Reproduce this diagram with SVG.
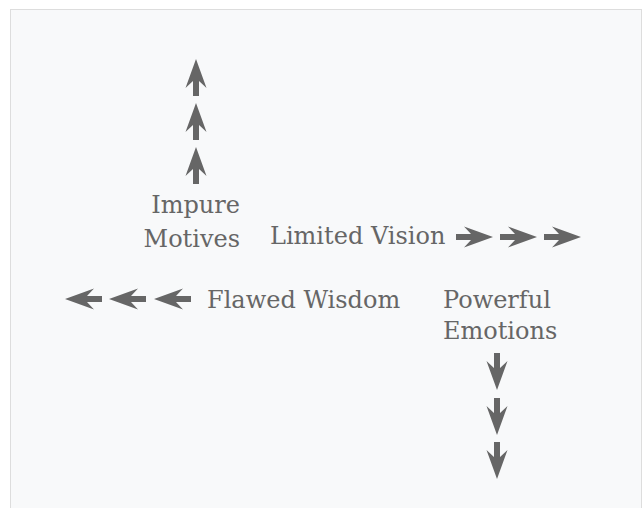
<svg xmlns="http://www.w3.org/2000/svg" width="644" height="508" viewBox="0 0 644 508">
<defs>
<style>
.lbl{font-family:"DejaVu Serif","Liberation Serif",serif;font-size:24px;fill:#666;}
.arr{fill:#666;}
</style>
<path id="arrow" d="M0,-3 L15,-3 L8,-10.5 L37,0 L8,10.5 L15,3 L0,3 Z"/>
</defs>
<rect x="10.5" y="9.5" width="631" height="510" fill="#f8f9fa" stroke="#dddddd" stroke-width="1"/>
<g id="connectors" class="arr">
<use href="#arrow" transform="translate(196,184) rotate(-90)"/>
<use href="#arrow" transform="translate(196,140) rotate(-90)"/>
<use href="#arrow" transform="translate(196,96) rotate(-90)"/>
<use href="#arrow" transform="translate(456,237)"/>
<use href="#arrow" transform="translate(500,237)"/>
<use href="#arrow" transform="translate(544,237)"/>
<use href="#arrow" transform="translate(191,299) rotate(180)"/>
<use href="#arrow" transform="translate(146,299) rotate(180)"/>
<use href="#arrow" transform="translate(102,299) rotate(180)"/>
<use href="#arrow" transform="translate(497,353) rotate(90)"/>
<use href="#arrow" transform="translate(497,398) rotate(90)"/>
<use href="#arrow" transform="translate(497,442) rotate(90)"/>
</g>
<g id="impure-motives">
<text class="lbl" x="240" y="213" text-anchor="end">Impure</text>
<text class="lbl" x="240" y="247" text-anchor="end">Motives</text>
</g>
<g id="limited-vision">
<text class="lbl" x="270" y="244">Limited Vision</text>
</g>
<g id="flawed-wisdom">
<text class="lbl" x="207" y="308">Flawed Wisdom</text>
</g>
<g id="powerful-emotions">
<text class="lbl" x="443" y="308">Powerful</text>
<text class="lbl" x="443" y="339">Emotions</text>
</g>
</svg>
